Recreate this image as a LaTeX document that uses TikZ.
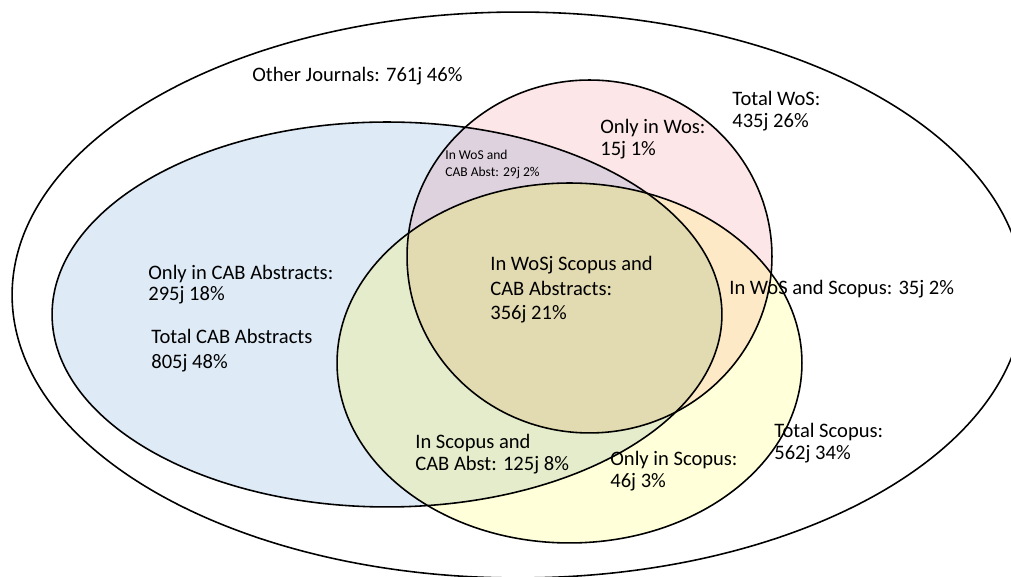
\documentclass[tikz,border=0pt]{standalone}
\usepackage{fontspec}
\setmainfont{Carlito}
\usepackage{tikz}
\usetikzlibrary{positioning}

\definecolor{cabblue}{RGB}{222,234,246}
\definecolor{wospink}{RGB}{253,230,232}
\definecolor{scopusyellow}{RGB}{255,255,217}
\definecolor{cabwos}{RGB}{222,210,223}
\definecolor{cabscopus}{RGB}{228,236,203}
\definecolor{wosscopus}{RGB}{253,233,198}
\definecolor{allthree}{RGB}{226,218,176}

\newcommand{\otherset}{(518,282) ellipse [x radius=10.12cm, y radius=5.66cm]}
\newcommand{\cabset}{(387,262.5) ellipse [x radius=6.7cm, y radius=3.85cm]}
\newcommand{\wosset}{(589.5,320.5) ellipse [x radius=3.65cm, y radius=3.53cm]}
\newcommand{\scopusset}{(569.5,214) ellipse [x radius=4.65cm, y radius=3.6cm]}

\begin{document}
\begin{tikzpicture}[
        x=0.02cm, y=0.02cm,
        set/.style={draw=black, line width=0.9pt},
        lbl/.style={anchor=north west, inner sep=0pt, align=left, font=\fontsize{11.7}{12.4}\selectfont},
        lblwide/.style={lbl, font=\fontsize{11.7}{14}\selectfont},
        lblsmall/.style={lbl, font=\fontsize{7.7}{9.7}\selectfont},
    ]
    \useasboundingbox (0,0) rectangle (1011,577);

    % Set fills
    \fill[cabblue] \cabset;
    \fill[wospink] \wosset;
    \fill[scopusyellow] \scopusset;
    \begin{scope}
        \clip \cabset;
        \fill[cabwos] \wosset;
        \fill[cabscopus] \scopusset;
    \end{scope}
    \begin{scope}
        \clip \wosset;
        \fill[wosscopus] \scopusset;
        \clip \cabset;
        \fill[allthree] \scopusset;
    \end{scope}

    % Set outlines
    \draw[set] \otherset;
    \draw[set] \cabset;
    \draw[set] \wosset;
    \draw[set] \scopusset;

    % Labels
    \node[lbl] (other) at (252,510) {Other Journals: 761j 46\%};
    \node[lbl, font=\fontsize{11.7}{12}\selectfont] (cabonly) at (148,312) {Only in CAB Abstracts:\\295j 18\%};
    \node[lblwide] (cabtotal) at (151,248) {Total CAB Abstracts\\805j 48\%};
    \node[lblsmall] (woscab) at (445,427) {In WoS and\\CAB Abst: 29j 2\%};
    \node[lbl] (wosonly) at (600,458) {Only in Wos:\\15j 1\%};
    \node[lbl] (wostotal) at (732,486) {Total WoS:\\435j 26\%};
    \node[lblwide] (allsets) at (490,321) {In WoSj Scopus and\\CAB Abstracts:\\356j 21\%};
    \node[lbl] (wosscopus) at (729,297) {In WoS and Scopus: 35j 2\%};
    \node[lbl] (scopuscab) at (415,143) {In Scopus and\\CAB Abst: 125j 8\%};
    \node[lbl] (scopusonly) at (610,126) {Only in Scopus:\\46j 3\%};
    \node[lbl] (scopustotal) at (774,154) {Total Scopus:\\562j 34\%};
\end{tikzpicture}
\end{document}
